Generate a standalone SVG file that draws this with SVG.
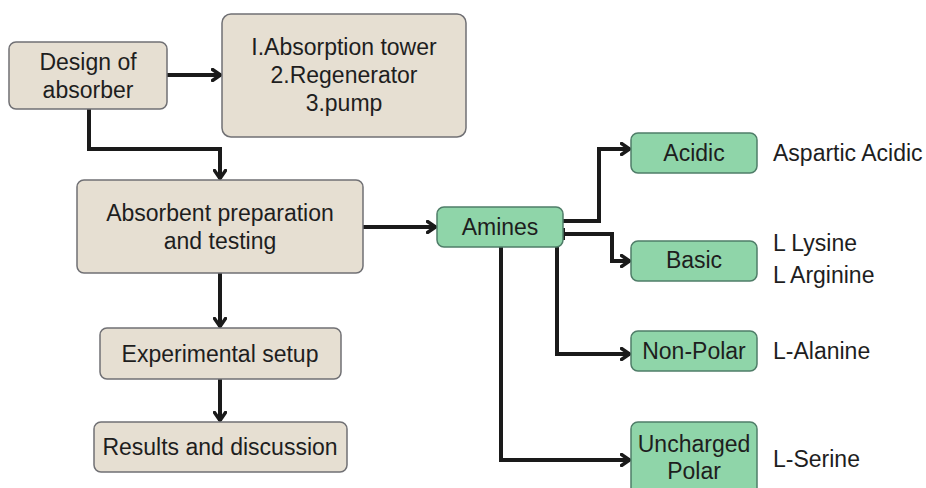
<svg xmlns="http://www.w3.org/2000/svg" width="926" height="488" viewBox="0 0 926 488">
<style>
.b{fill:#e6dfd2;stroke:#707074;stroke-width:1.5}
.g{fill:#8fd5a9;stroke:#4f7d68;stroke-width:1.5}
text{font-family:"Liberation Sans",Arial,sans-serif;font-size:23px;fill:#1e1e1e;}
.c{text-anchor:middle}
.ln{fill:none;stroke:#1a1a1a;stroke-width:4;stroke-linejoin:miter}
</style>
<defs>
<marker id="ah" viewBox="0 0 12 14" refX="10.5" refY="7" markerWidth="12" markerHeight="14" markerUnits="userSpaceOnUse" orient="auto">
<path d="M2,1.5 L10,7 L2,12.5" fill="none" stroke="#1a1a1a" stroke-width="3.4" stroke-linecap="round" stroke-linejoin="round"/>
</marker>
</defs>
<rect width="926" height="488" fill="#fff"/>
<g id="connectors">
<path class="ln" d="M167,75 H221" marker-end="url(#ah)"/>
<path class="ln" d="M89,109 V149 H220 V179" marker-end="url(#ah)"/>
<path class="ln" d="M363,227 H436" marker-end="url(#ah)"/>
<path class="ln" d="M220,273 V327" marker-end="url(#ah)"/>
<path class="ln" d="M220,379 V421" marker-end="url(#ah)"/>
<path class="ln" d="M563,221 H599 V149 H630" marker-end="url(#ah)"/>
<path class="ln" d="M563,228 V240 M563,234 H612 V261 H630" marker-end="url(#ah)"/>
<path class="ln" d="M557,247 V354 H630" marker-end="url(#ah)"/>
<path class="ln" d="M501,247 V460 H630" marker-end="url(#ah)"/>
</g>
<g id="design">
<rect class="b" x="9" y="42" width="158" height="67" rx="7"/>
<text class="c" x="88" y="70">Design of</text>
<text class="c" x="88" y="98">absorber</text>
</g>
<g id="components">
<rect class="b" x="222" y="14" width="244" height="123" rx="9"/>
<text class="c" x="344" y="55">I.Absorption tower</text>
<text class="c" x="344" y="83">2.Regenerator</text>
<text class="c" x="344" y="111">3.pump</text>
</g>
<g id="absorbent">
<rect class="b" x="77" y="180" width="286" height="93" rx="7"/>
<text class="c" x="220" y="221">Absorbent preparation</text>
<text class="c" x="220" y="249">and testing</text>
</g>
<g id="experimental">
<rect class="b" x="100" y="328" width="241" height="51" rx="7"/>
<text class="c" x="220" y="362">Experimental setup</text>
</g>
<g id="results">
<rect class="b" x="94" y="422" width="253" height="50" rx="7"/>
<text class="c" x="220" y="455">Results and discussion</text>
</g>
<g id="amines">
<rect class="g" x="437" y="207" width="126" height="40" rx="7"/>
<text class="c" x="500" y="235">Amines</text>
</g>
<g id="acidic">
<rect class="g" x="631" y="133" width="126" height="40" rx="7"/>
<text class="c" x="694" y="161">Acidic</text>
<text x="773" y="161">Aspartic Acidic</text>
</g>
<g id="basic">
<rect class="g" x="631" y="241" width="126" height="40" rx="7"/>
<text class="c" x="694" y="268">Basic</text>
<text x="773" y="251">L Lysine</text>
<text x="773" y="283">L Arginine</text>
</g>
<g id="nonpolar">
<rect class="g" x="631" y="331" width="126" height="40" rx="7"/>
<text class="c" x="694" y="359">Non-Polar</text>
<text x="773" y="359">L-Alanine</text>
</g>
<g id="uncharged">
<rect class="g" x="631" y="422" width="126" height="80" rx="7"/>
<text class="c" x="694" y="452">Uncharged</text>
<text class="c" x="694" y="479">Polar</text>
<text x="773" y="467">L-Serine</text>
</g>
</svg>
